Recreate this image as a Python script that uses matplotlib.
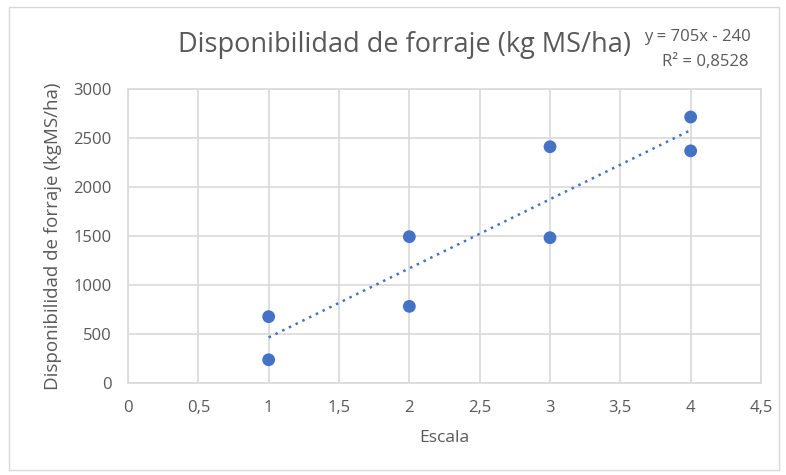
import matplotlib.pyplot as plt
import numpy as np
from matplotlib.patches import Rectangle

# datos
escala = [1, 1, 2, 2, 3, 3, 4, 4]
forraje = [677, 237, 1493, 782, 2411, 1483, 2714, 2369]
pendiente = 705
intercepto = -240
r2 = "0,8528"

x_ticks = [0, 0.5, 1, 1.5, 2, 2.5, 3, 3.5, 4, 4.5]
x_labels = ["0", "0,5", "1", "1,5", "2", "2,5", "3", "3,5", "4", "4,5"]
y_ticks = [0, 500, 1000, 1500, 2000, 2500, 3000]

plt.rcParams['font.family'] = ['Open Sans', 'DejaVu Sans']
gris = "#595959"
azul = "#4472C4"

fig = plt.figure(figsize=(7.86, 4.75), dpi=100)
ax = fig.add_axes([128/786, 1 - 383/475, (761-128)/786, (383-89)/475])

ax.scatter(escala, forraje, s=85, color=azul, zorder=3, edgecolors="none")

xs = np.array([min(escala), max(escala)])
ax.plot(xs, pendiente * xs + intercepto, color=azul, linestyle=(0, (1, 2)),
        linewidth=1.8, zorder=2)

ax.set_xlim(0, 4.5)
ax.set_ylim(0, 3000)
ax.set_xticks(x_ticks)
ax.set_xticklabels(x_labels)
ax.set_yticks(y_ticks)
ax.grid(True, color="#d9d9d9", linewidth=1.2)
ax.set_axisbelow(True)
for s in ax.spines.values():
    s.set_color("#d9d9d9")
    s.set_linewidth(1.2)
ax.tick_params(length=0, labelsize=12, colors=gris)
ax.tick_params(axis="y", pad=12)
ax.tick_params(axis="x", pad=12)

ax.set_xlabel("Escala", fontsize=12.5, color=gris, labelpad=10)
ax.set_ylabel("Disponibilidad de forraje (kgMS/ha)", fontsize=13.5, color=gris, labelpad=8)

fig.text(405/786, 1 - 45/475, "Disponibilidad de forraje (kg MS/ha)",
         ha="center", va="center", fontsize=19.5, color=gris)
fig.text(697/786, 1 - 37/475, "y = 705x - 240", ha="center", va="center",
         fontsize=12, color=gris)
fig.text(705/786, 1 - 62/475, "R² = " + r2, ha="center", va="center",
         fontsize=12, color=gris)

fig.patches.append(Rectangle((9/786, 0.01), 1 - 16/786, 1 - 7/475 - 0.01,
                             transform=fig.transFigure, fill=False,
                             edgecolor="#d9d9d9", linewidth=1))

fig.savefig("out.png", dpi=100)
